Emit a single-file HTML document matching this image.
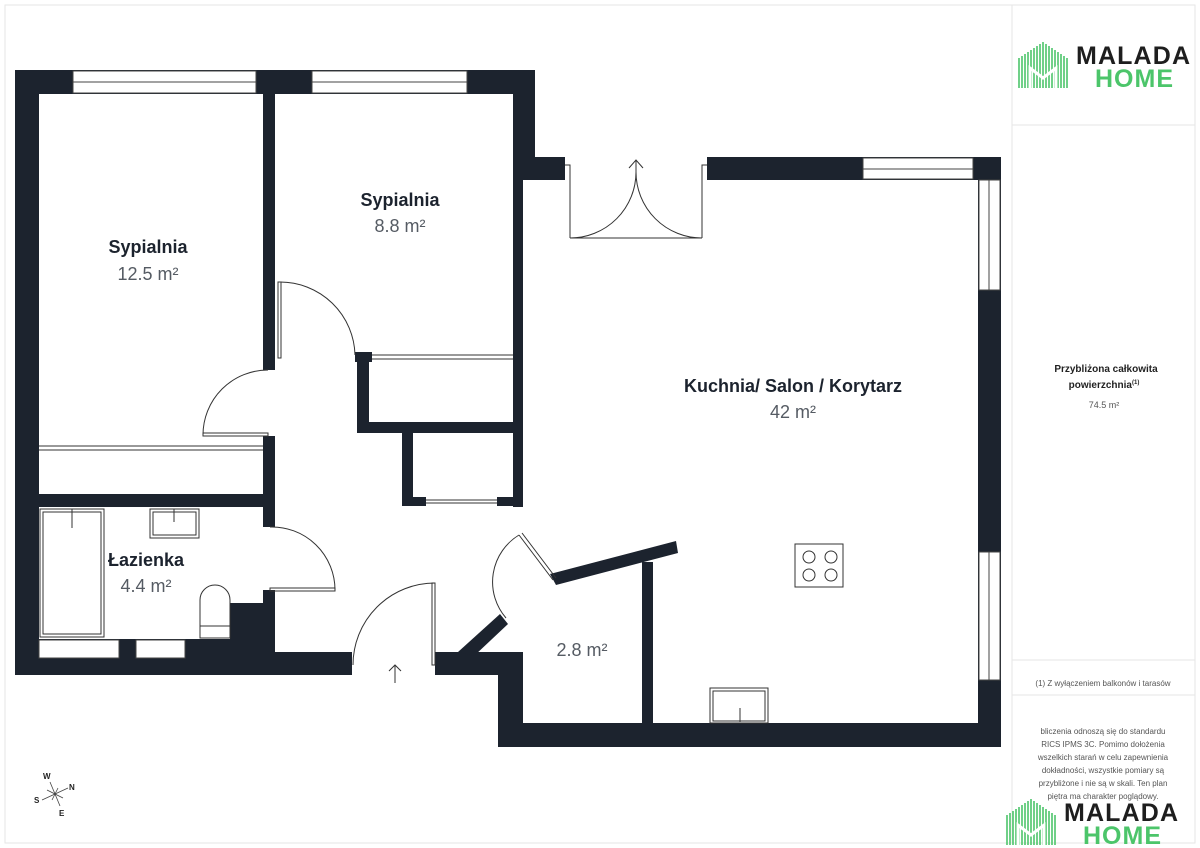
<!DOCTYPE html>
<html><head><meta charset="utf-8"><style>
html,body{margin:0;padding:0;background:#fff}
svg{display:block}
text{font-family:"Liberation Sans",sans-serif}
</style></head><body>
<svg width="1200" height="848" viewBox="0 0 1200 848" xmlns="http://www.w3.org/2000/svg">
<rect x="5" y="5" width="1190" height="838" fill="none" stroke="#e6e6e6"/>
<line x1="1012" y1="5" x2="1012" y2="843" stroke="#e6e6e6"/>
<line x1="1012" y1="125" x2="1195" y2="125" stroke="#e6e6e6"/>
<line x1="1012" y1="660" x2="1195" y2="660" stroke="#e6e6e6"/>
<line x1="1012" y1="695" x2="1195" y2="695" stroke="#e6e6e6"/>
<g fill="#1c232e">
<!-- outer left & top -->
<rect x="15" y="70" width="24" height="605"/>
<rect x="15" y="70" width="520" height="24"/>
<rect x="513" y="70" width="22" height="110"/>
<rect x="513" y="157" width="52" height="23"/>
<rect x="513" y="157" width="10" height="350"/>
<!-- top right -->
<rect x="707" y="157" width="294" height="23"/>
<rect x="978" y="157" width="23" height="590"/>
<!-- bedroom divider -->
<rect x="263" y="94" width="12" height="276"/>
<rect x="263" y="436" width="12" height="91"/>
<!-- bedroom2 closet walls -->
<rect x="355" y="352" width="17" height="10"/>
<rect x="357" y="352" width="12" height="80"/>
<rect x="357" y="422" width="166" height="11"/>
<rect x="402" y="422" width="11" height="84"/>
<rect x="402" y="497" width="24" height="9"/>
<rect x="497" y="497" width="26" height="9"/>
<!-- bedroom/bath wall -->
<rect x="15" y="494" width="260" height="13"/>
<!-- bathroom bottom -->
<rect x="15" y="639" width="260" height="36"/>
<rect x="230" y="603" width="45" height="72"/>
<rect x="263" y="590" width="12" height="20"/>
<rect x="275" y="652" width="77" height="23"/>
<rect x="435" y="652" width="88" height="23"/>
<rect x="498" y="652" width="25" height="95"/>
<rect x="498" y="723" width="503" height="24"/>
<rect x="642" y="562" width="11" height="165"/>
<polygon points="550,574 676,541 678,553 556,585"/>
<polygon points="458,652 500,614 508,624 474,656"/>
</g>
<g fill="#fff" stroke="#444" stroke-width="1">
<!-- windows -->
<rect x="73" y="71" width="183" height="22"/><line x1="73" y1="82" x2="256" y2="82"/>
<rect x="312" y="71" width="155" height="22"/><line x1="312" y1="82" x2="467" y2="82"/>
<rect x="863" y="158" width="110" height="21"/><line x1="863" y1="169" x2="973" y2="169"/>
<rect x="979" y="180" width="21" height="110"/><line x1="989" y1="180" x2="989" y2="290"/>
<rect x="979" y="552" width="21" height="128"/><line x1="989" y1="552" x2="989" y2="680"/>
<rect x="39" y="640" width="80" height="18"/>
<rect x="136" y="640" width="49" height="18"/>
</g>
<g fill="none" stroke="#333" stroke-width="1">
<!-- closets -->
<line x1="39" y1="446" x2="263" y2="446"/><line x1="39" y1="450" x2="263" y2="450"/>
<line x1="372" y1="355" x2="513" y2="355"/><line x1="372" y1="359" x2="513" y2="359"/>
<line x1="426" y1="500" x2="497" y2="500"/><line x1="426" y1="503" x2="497" y2="503"/>
<!-- doors -->
<rect x="278" y="282" width="3" height="76"/><path d="M280 282 A75 75 0 0 1 355 355"/>
<rect x="203" y="433" width="65" height="3"/><path d="M268 370 A65 65 0 0 0 203 435"/>
<rect x="270" y="588" width="65" height="3"/><path d="M270 527 A63 63 0 0 1 335 590"/>
<rect x="432" y="583" width="3" height="82"/><path d="M435 583 A82 82 0 0 0 353 665"/>
<path d="M395 683 V665 M389 671 L395 665 L401 671"/>
<path d="M553 580 L519 535 M556 578 L522 533"/><path d="M519 535 A55 55 0 0 0 506 618"/>
<path d="M565 165 H570 V238 M707 165 H702 V238"/>
<line x1="570" y1="238" x2="636" y2="238"/><line x1="636" y1="238" x2="702" y2="238"/>
<path d="M570 238 A66 66 0 0 0 636 172"/><path d="M702 238 A66 66 0 0 1 636 172"/>
<path d="M636 180 V160 M629 168 L636 160 L643 168"/>
<!-- bath -->
<rect x="40" y="509" width="64" height="128"/><rect x="43" y="512" width="58" height="122"/>
<line x1="72" y1="509" x2="72" y2="528"/>
<rect x="150" y="509" width="49" height="29"/><rect x="153" y="512" width="43" height="23"/>
<line x1="174" y1="509" x2="174" y2="522"/>
<path d="M200 625 V600 A15 15 0 0 1 230 600 V638 H200 Z M200 626 H230"/>
<!-- stove -->
<rect x="795" y="544" width="48" height="43"/>
<circle cx="809" cy="557" r="6"/><circle cx="831" cy="557" r="6"/>
<circle cx="809" cy="575" r="6"/><circle cx="831" cy="575" r="6"/>
<rect x="710" y="688" width="58" height="35"/><rect x="713" y="691" width="52" height="30"/>
<line x1="740" y1="708" x2="740" y2="722"/>
</g>
<g text-anchor="middle">
<text x="148" y="253" font-size="18" font-weight="bold" fill="#1c232e">Sypialnia</text>
<text x="148" y="280" font-size="18" fill="#555b63">12.5 m²</text>
<text x="400" y="206" font-size="18" font-weight="bold" fill="#1c232e">Sypialnia</text>
<text x="400" y="232" font-size="18" fill="#555b63">8.8 m²</text>
<text x="146" y="566" font-size="18" font-weight="bold" fill="#1c232e">Łazienka</text>
<text x="146" y="592" font-size="18" fill="#555b63">4.4 m²</text>
<text x="793" y="392" font-size="18" font-weight="bold" fill="#1c232e">Kuchnia/ Salon / Korytarz</text>
<text x="793" y="418" font-size="18" fill="#555b63">42 m²</text>
<text x="582" y="656" font-size="18" fill="#555b63">2.8 m²</text>
<text x="1106" y="372" font-size="10" font-weight="bold" fill="#222">Przybliżona całkowita</text>
<text x="1104" y="388" font-size="10" font-weight="bold" fill="#222">powierzchnia<tspan font-size="6" dy="-4">(1)</tspan></text>
<text x="1104" y="408" font-size="9" fill="#555">74.5 m²</text>
<text x="1103" y="686" font-size="8" fill="#555">(1) Z wyłączeniem balkonów i tarasów</text>
<g font-size="8" fill="#555">
<text x="1103" y="734">bliczenia odnoszą się do standardu</text>
<text x="1103" y="747">RICS IPMS 3C. Pomimo dołożenia</text>
<text x="1103" y="760">wszelkich starań w celu zapewnienia</text>
<text x="1103" y="773">dokładności, wszystkie pomiary są</text>
<text x="1103" y="786">przybliżone i nie są w skali. Ten plan</text>
<text x="1103" y="799">piętra ma charakter poglądowy.</text>
</g>
</g>
<!-- compass -->
<g stroke="#444" stroke-width="0.8">
<line x1="50" y1="782" x2="60" y2="806"/><line x1="42" y1="800" x2="68" y2="788"/>
<line x1="47" y1="790" x2="63" y2="798"/><line x1="52" y1="800" x2="58" y2="788"/>
</g>
<g font-size="8" font-weight="bold" fill="#222">
<text x="43" y="779">W</text><text x="69" y="790">N</text><text x="34" y="803">S</text><text x="59" y="816">E</text>
</g>
<!-- logos -->
<g id="logo">
<g stroke="#4cc56a" stroke-width="1.6">
<line x1="1019" y1="58" x2="1019" y2="88"/><line x1="1022" y1="56" x2="1022" y2="88"/>
<line x1="1025" y1="54" x2="1025" y2="88"/><line x1="1028" y1="52" x2="1028" y2="88"/>
<line x1="1031" y1="50" x2="1031" y2="88"/><line x1="1034" y1="48" x2="1034" y2="88"/>
<line x1="1037" y1="46" x2="1037" y2="88"/><line x1="1040" y1="44" x2="1040" y2="88"/>
<line x1="1043" y1="42" x2="1043" y2="88"/><line x1="1046" y1="44" x2="1046" y2="88"/>
<line x1="1049" y1="46" x2="1049" y2="88"/><line x1="1052" y1="48" x2="1052" y2="88"/>
<line x1="1055" y1="50" x2="1055" y2="88"/><line x1="1058" y1="52" x2="1058" y2="88"/>
<line x1="1061" y1="54" x2="1061" y2="88"/><line x1="1064" y1="56" x2="1064" y2="88"/>
<line x1="1067" y1="58" x2="1067" y2="88"/>
</g>
<path d="M1030 88 V68 L1043 78 L1056 68 V88" fill="none" stroke="#fff" stroke-width="3"/>
<text x="1076" y="64" font-size="25" font-weight="bold" fill="#1e1e1e" textLength="114">MALADA</text>
<text x="1095" y="87" font-size="25" font-weight="bold" fill="#4cc56a" textLength="78">HOME</text>
</g>
<use href="#logo" transform="translate(-12,757)"/>
</svg>
</body></html>
